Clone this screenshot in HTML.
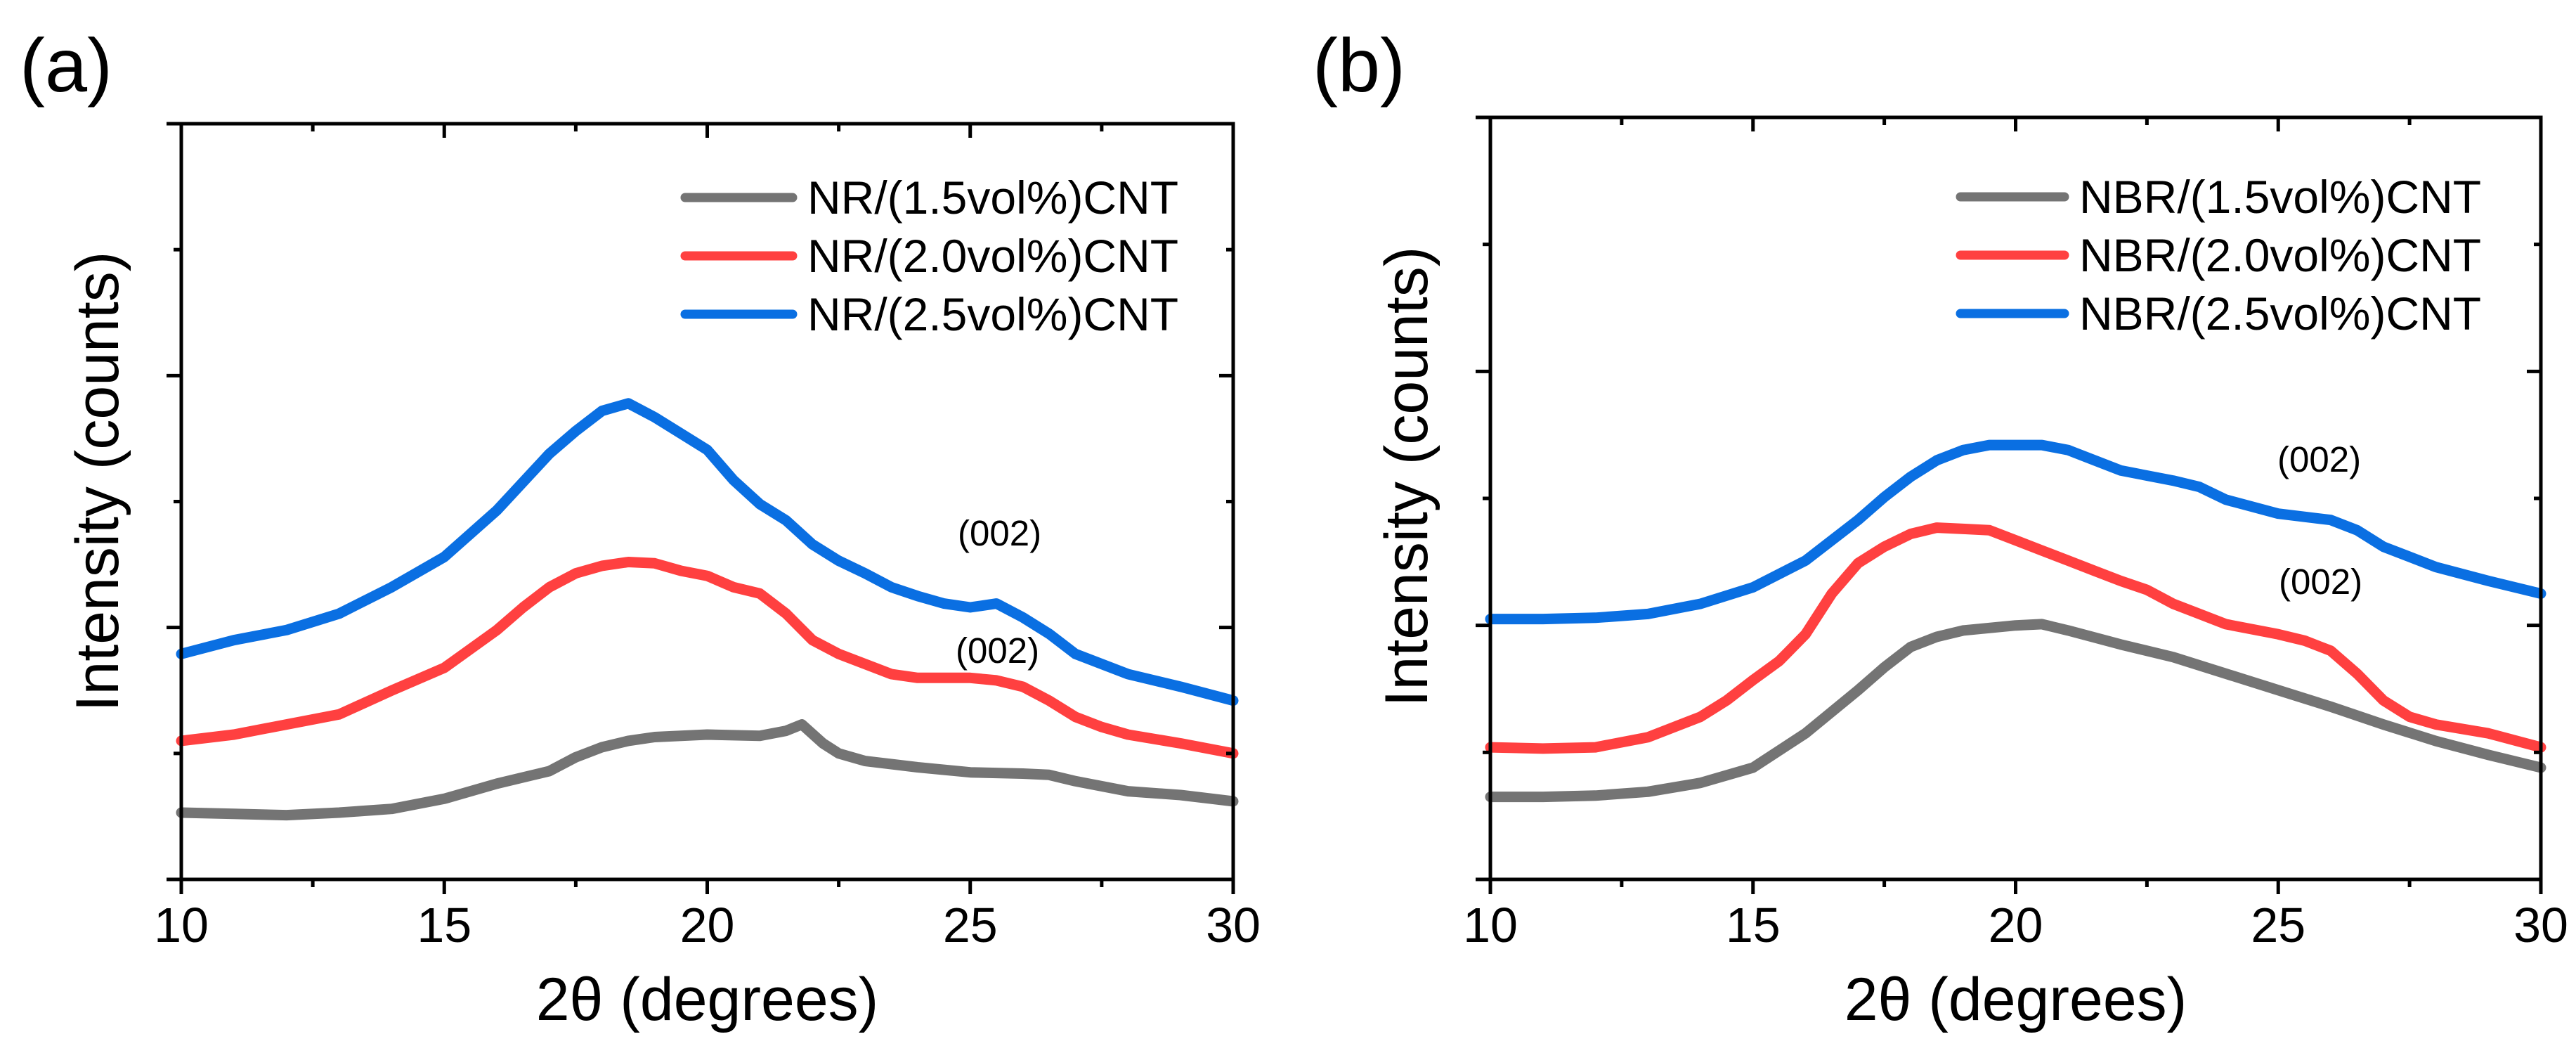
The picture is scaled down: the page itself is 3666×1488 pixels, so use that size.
<!DOCTYPE html>
<html><head><meta charset="utf-8"><style>
html,body{margin:0;padding:0;background:#fff;}
svg{display:block;font-family:"Liberation Sans",Arial,sans-serif;}
</style></head><body>
<svg id="fig" width="3666" height="1488" viewBox="0 0 3666 1488" xmlns="http://www.w3.org/2000/svg"></svg>
<script>
// ----- shared data -----
const xTicks = [10, 15, 20, 25, 30];
const xMinorTicks = [12.5, 17.5, 22.5, 27.5];
const yTicks = [0, 100, 200, 300, 400, 500, 600];

// ----- panel (a) NR data -----
const aGrayX = [10,11,12,13,14,15,16,17,17.5,18,18.5,19,20,21,21.5,21.8,22.2,22.5,23,24,25,26,26.5,27,28,29,30];
const aGrayY = [53,52,51,53,56,64,76,86,97,105,110,113,115,114,118,123,108,100,94,89,85,84,83,78,70,67,62];
const aRedX = [10,11,12,13,14,15,16,16.5,17,17.5,18,18.5,19,19.5,20,20.5,21,21.5,22,22.5,23,23.5,24,25,25.5,26,26.5,27,27.5,28,29,30];
const aRedY = [110,115,123,131,150,168,198,216,232,243,249,252,251,245,241,232,227,211,190,179,171,163,160,160,158,153,142,129,121,115,108,100];
const aBlueX = [10,11,12,13,14,15,16,17,17.5,18,18.5,19,19.5,20,20.5,21,21.5,22,22.5,23,23.5,24,24.5,25,25.5,26,26.5,27,28,29,30];
const aBlueY = [179,190,198,211,232,256,293,338,356,372,378,367,354,341,317,298,285,266,253,243,232,225,219,216,219,208,195,179,163,153,142];

// ----- panel (b) NBR data -----
const bGrayX = [10,11,12,13,14,15,16,17,17.5,18,18.5,19,20,20.5,21,22,23,24,25,26,27,28,29,30];
const bGrayY = [65,65,66,69,76,88,115,149,167,183,191,196,200,201,196,185,175,162,149,136,122,109,98,88];
const bRedX = [10,11,12,13,14,14.5,15,15.5,16,16.5,17,17.5,18,18.5,19,19.5,20,20.5,21,21.5,22,22.5,23,23.5,24,25,25.5,26,26.5,27,27.5,28,29,30];
const bRedY = [104,103,104,112,128,141,157,172,193,225,249,262,272,277,276,275,267,259,251,243,235,228,217,209,201,193,188,180,162,141,128,122,115,104];
const bBlueX = [10,11,12,13,14,15,16,17,17.5,18,18.5,19,19.5,20,20.5,21,21.5,22,23,23.5,24,25,26,26.5,27,28,29,30];
const bBlueY = [205,205,206,209,217,230,251,283,301,317,330,338,342,342,342,338,330,322,314,309,299,288,283,275,262,246,235,225];

const NS = "http://www.w3.org/2000/svg";
const svg = document.getElementById('fig');
function mk(tag, attrs, parent){
  const e = document.createElementNS(NS, tag);
  for (const k in attrs) e.setAttribute(k, attrs[k]);
  (parent||svg).appendChild(e);
  return e;
}
const COLORS = {gray:'#747474', red:'#ff4040', blue:'#0a6fe2'};

function panel(cfg){
  const g = mk('g', {});
  
  
  const L=cfg.L,R=cfg.R,T=cfg.T,B=cfg.B;
  const sx = v => L + (v-10)/20*(R-L);
  const sy = v => B - v/600*(B-T);

  cfg.series.forEach(s=>{
    let d='';
    s.x.forEach((xv,i)=>{ d += (i?'L':'M') + sx(xv).toFixed(1) + ' ' + sy(s.y[i]).toFixed(1); });
    const p = mk('path', {d:d, fill:'none', stroke:s.color, 'stroke-width':15, 'stroke-linejoin':'round', 'stroke-linecap':'round'}, g);
    
    
  });

  const fr = mk('rect', {x:L, y:T, width:R-L, height:B-T, fill:'none', stroke:'#000', 'stroke-width':5}, g);
  
  

  xTicks.forEach(v=>{
    const x=sx(v);
    mk('line',{x1:x,y1:B,x2:x,y2:B+21,stroke:'#000','stroke-width':5},g);
    mk('line',{x1:x,y1:T,x2:x,y2:T+20,stroke:'#000','stroke-width':5},g);
    const t = mk('text',{x:x,y:1340,'font-size':70,'text-anchor':'middle',fill:'#000'},g);
    t.textContent = v;
    
    
  });
  xMinorTicks.forEach(v=>{
    const x=sx(v);
    mk('line',{x1:x,y1:B,x2:x,y2:B+11,stroke:'#000','stroke-width':5},g);
    mk('line',{x1:x,y1:T,x2:x,y2:T+11,stroke:'#000','stroke-width':5},g);
  });
  yTicks.forEach((v,i)=>{
    const y=sy(v);
    const len = (i%2===0)?21:11;
    mk('line',{x1:L,y1:y,x2:L-len,y2:y,stroke:'#000','stroke-width':5},g);
    mk('line',{x1:R,y1:y,x2:R-len+1,y2:y,stroke:'#000','stroke-width':5},g);
  });

  const xt = mk('text',{x:(L+R)/2,y:1451,'font-size':86,'text-anchor':'middle',fill:'#000'},g);
  xt.textContent = '2θ (degrees)';
  
  
  const yt = mk('text',{x:0,y:0,'font-size':86,'text-anchor':'middle',fill:'#000',transform:`translate(${cfg.ytx},${cfg.yty}) rotate(-90)`},g);
  yt.textContent = 'Intensity (counts)';
  
  

  const pl = mk('text',{x:cfg.labX,y:130,'font-size':108,fill:'#000'},g);
  pl.textContent = cfg.label;
  
  

  cfg.series.forEach((s,i)=>{
    const y = cfg.legY + i*83;
    const ln = mk('line',{x1:cfg.legX1,y1:y,x2:cfg.legX2,y2:y,stroke:s.color,'stroke-width':13,'stroke-linecap':'round'},g);
    
    
    const tx = mk('text',{x:cfg.legTX,y:y+23,'font-size':66,fill:'#000'},g);
    tx.textContent = s.label;
    
    
  });

  cfg.notes.forEach(n=>{
    const t = mk('text',{x:n[0],y:n[1],'font-size':51,fill:'#000'},g);
    t.textContent = '(002)';
    
    
  });
}

panel({id:'panel-a-nr', L:258, R:1755, T:176, B:1251, label:'(a)', labX:28, ytx:168, yty:685,
  legX1:975, legX2:1128, legTX:1149, legY:281,
  notes:[[1363,776],[1360,943]],
  series:[
    {name:'series-nr-1.5', x:aGrayX, y:aGrayY, color:COLORS.gray, label:'NR/(1.5vol%)CNT'},
    {name:'series-nr-2.0', x:aRedX, y:aRedY, color:COLORS.red, label:'NR/(2.0vol%)CNT'},
    {name:'series-nr-2.5', x:aBlueX, y:aBlueY, color:COLORS.blue, label:'NR/(2.5vol%)CNT'}
  ]});
panel({id:'panel-b-nbr', L:2121, R:3616, T:167, B:1251, label:'(b)', labX:1868, ytx:2031, yty:678,
  legX1:2790, legX2:2938, legTX:2959, legY:280,
  notes:[[3241,671],[3243,845]],
  series:[
    {name:'series-nbr-1.5', x:bGrayX, y:bGrayY, color:COLORS.gray, label:'NBR/(1.5vol%)CNT'},
    {name:'series-nbr-2.0', x:bRedX, y:bRedY, color:COLORS.red, label:'NBR/(2.0vol%)CNT'},
    {name:'series-nbr-2.5', x:bBlueX, y:bBlueY, color:COLORS.blue, label:'NBR/(2.5vol%)CNT'}
  ]});
</script>
</body></html>
